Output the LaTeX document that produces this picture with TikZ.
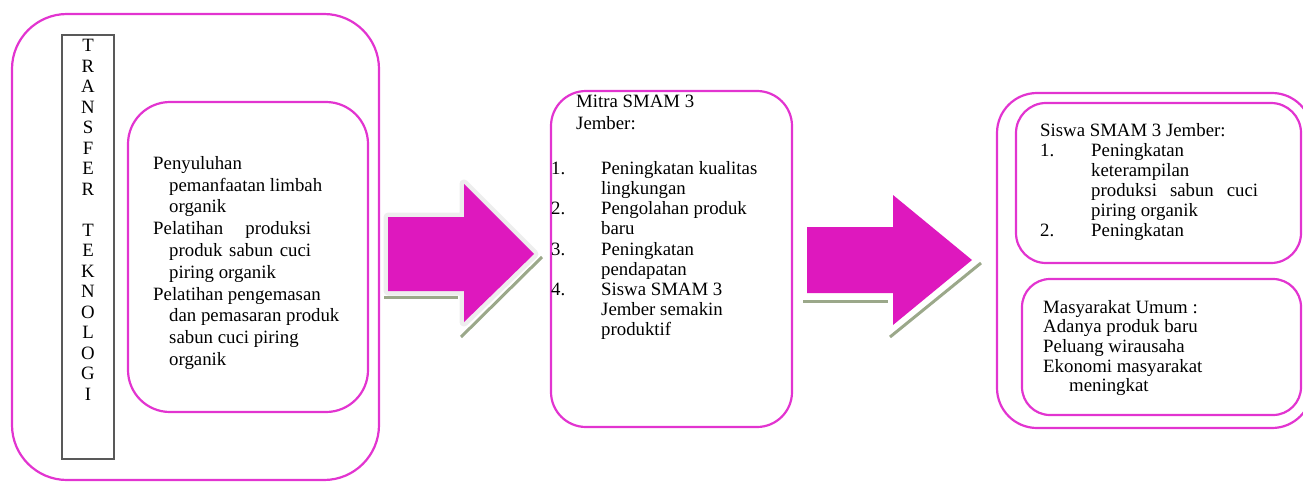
\documentclass[tikz,border=0pt]{standalone}
\usepackage{fontspec}
\setmainfont{Liberation Serif}
\definecolor{mag}{RGB}{226,52,208}
\definecolor{arrfill}{RGB}{222,24,190}
\definecolor{shad}{RGB}{155,168,138}
\definecolor{glow}{RGB}{238,238,238}
\newcommand\ind{\hspace*{16pt}}
\begin{document}
\begin{tikzpicture}[x=1pt,y=-1pt,
  magbox/.style={draw=mag,line width=2.2pt},
  txt/.style={anchor=north west,inner sep=0pt,align=left,font=\fontsize{18.8}{21.8}\selectfont},
  txtb/.style={anchor=north west,inner sep=0pt,align=left,font=\fontsize{18.8}{20.2}\selectfont},
  arrowshape/.style={fill=arrfill},
  shadline/.style={draw=shad,line width=3pt}]
\useasboundingbox (0,0) rectangle (1303,482);
% left group
\draw[magbox,rounded corners=55pt] (12,14) rectangle (379,480);
\draw[draw=black!65,line width=1.2pt] (62,35) rectangle (114,459);
\node[anchor=north,inner sep=0pt,align=center,font=\fontsize{18.8}{20.5}\selectfont] (tt) at (88,39)
  {T\\R\\A\\N\\S\\F\\E\\R\\~\\T\\E\\K\\N\\O\\L\\O\\G\\I};
\draw[magbox,rounded corners=42pt] (128,102) rectangle (368,412);
\node[txt] (lt) at (153,156) {Penyuluhan\\
\ind pemanfaatan limbah\\
\ind organik\\
\makebox[158pt][s]{Pelatihan produksi}\\
\ind\makebox[142pt][s]{produk sabun cuci}\\
\ind piring organik\\
Pelatihan pengemasan\\
\ind dan pemasaran produk\\
\ind sabun cuci piring\\
\ind organik};
% arrow 1
\draw[shadline] (384,297) -- (458,297);
\draw[shadline] (542,257) -- (461,337);
\path[draw=glow,line width=9pt,line join=round,fill=glow] (388,217) -- (464,217) -- (464,184) -- (534,254) -- (464,322) -- (464,291) -- (388,291) -- cycle;
\path[arrowshape] (388,217) -- (464,217) -- (464,184) -- (534,254) -- (464,322) -- (464,291) -- (388,291) -- cycle;
% middle box
\draw[magbox,rounded corners=35pt] (551,91) rectangle (792,427);
\node[anchor=north west,inner sep=0pt,align=left,font=\fontsize{18.8}{22}\selectfont] (mh) at (576,95) {Mitra SMAM 3\\Jember:};
\node[txtb] (ml) at (551,161) {\makebox[50pt][l]{1.}Peningkatan kualitas\\
\hspace*{50pt}lingkungan\\
\makebox[50pt][l]{2.}Pengolahan produk\\
\hspace*{50pt}baru\\
\makebox[50pt][l]{3.}Peningkatan\\
\hspace*{50pt}pendapatan\\
\makebox[50pt][l]{4.}Siswa SMAM 3\\
\hspace*{50pt}Jember semakin\\
\hspace*{50pt}produktif};
% arrow 2
\draw[shadline] (803,301) -- (888,301);
\draw[shadline] (981,263) -- (890,337);
\path[arrowshape] (807,227) -- (893,227) -- (893,195) -- (972,260) -- (893,325) -- (893,293) -- (807,293) -- cycle;
% right group
\draw[magbox,rounded corners=40pt] (997,93) rectangle (1312,428);
\draw[magbox,rounded corners=30pt] (1016,103) rectangle (1301,263);
\draw[magbox,rounded corners=28pt] (1022,279) rectangle (1301,415);
\node[anchor=north west,inner sep=0pt,align=left,font=\fontsize{18.8}{20}\selectfont] (rt) at (1040,123) {Siswa SMAM 3 Jember:\\
\makebox[51pt][l]{1.}Peningkatan\\
\hspace*{51pt}keterampilan\\
\hspace*{51pt}\makebox[167pt][s]{produksi sabun cuci}\\
\hspace*{51pt}piring organik\\
\makebox[51pt][l]{2.}Peningkatan};
\node[anchor=north west,inner sep=0pt,align=left,font=\fontsize{18.8}{19.6}\selectfont] (rb) at (1043,300) {Masyarakat Umum :\\
Adanya produk baru\\
Peluang wirausaha\\
Ekonomi masyarakat\\
\hspace*{26pt}meningkat};
\end{tikzpicture}
\end{document}
